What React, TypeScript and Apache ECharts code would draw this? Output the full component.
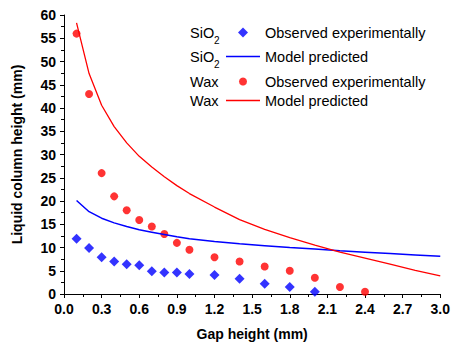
import React, { useEffect, useRef } from "react";
import * as echarts from "echarts";

const sio2ObsX = [0.1, 0.2, 0.3, 0.4, 0.5, 0.6, 0.7, 0.8, 0.9, 1.0, 1.2, 1.4, 1.6, 1.8, 2.0];
const sio2ObsY = [11.9, 9.9, 7.9, 7.0, 6.4, 6.2, 4.9, 4.6, 4.6, 4.3, 4.1, 3.3, 2.2, 1.5, 0.5];

const waxObsX = [0.1, 0.2, 0.3, 0.4, 0.5, 0.6, 0.7, 0.8, 0.9, 1.0, 1.2, 1.4, 1.6, 1.8, 2.0, 2.2, 2.4];
const waxObsY = [56.0, 43.0, 26.0, 21.0, 18.0, 15.9, 14.5, 12.9, 11.0, 9.5, 7.9, 7.0, 5.9, 5.0, 3.5, 1.5, 0.5];

const modelX = [0.1, 0.2, 0.3, 0.4, 0.5, 0.6, 0.7, 0.8, 0.9, 1.0, 1.2, 1.4, 1.6, 1.8, 2.0, 2.2, 2.4, 2.6, 2.8, 3.0];
const sio2ModelY = [20.1, 17.7, 16.3, 15.3, 14.5, 13.8, 13.3, 12.8, 12.3, 11.9, 11.3, 10.8, 10.4, 10.0, 9.7, 9.3, 9.0, 8.7, 8.4, 8.1];
const waxModelY = [58.3, 47.4, 40.6, 36.0, 32.5, 29.6, 27.3, 25.2, 23.3, 21.6, 18.7, 16.0, 13.9, 12.1, 10.5, 9.0, 7.7, 6.4, 5.1, 3.9];

const xAxisName = "Gap height (mm)";
const yAxisName = "Liquid column height (mm)";
const observedLabel = "Observed experimentally";
const modelLabel = "Model predicted";

const FONT = "Liberation Sans, Arial, sans-serif";

const pairs = (xs: number[], ys: number[]) => xs.map((x, i) => [x, ys[i]]);

export default function App() {
  const ref = useRef<HTMLDivElement>(null);
  useEffect(() => {
    if (!ref.current) return;
    const chart = echarts.init(ref.current, null, { renderer: "svg" });
    const legendItem = (
      name: string,
      icon: string,
      top: number,
      label: string,
      left: number,
      iw: number,
      ih: number,
      padLeft: number
    ) => ({
      data: [{ name, icon }],
      left,
      top,
      padding: 0,
      itemWidth: iw,
      itemHeight: ih,
      formatter: () => label,
      selectedMode: false,
      textStyle: { fontSize: 14.5, color: "#000", fontFamily: FONT, padding: [0, 0, 0, padLeft] },
    });
    chart.setOption({
      animation: false,
      backgroundColor: "#fff",
      grid: { left: 64, top: 15, width: 378, height: 279, containLabel: false },
      xAxis: {
        type: "value",
        min: 0,
        max: 3,
        interval: 0.3,
        name: xAxisName,
        nameLocation: "middle",
        nameGap: 33,
        nameTextStyle: { fontSize: 14, fontWeight: "bold", color: "#000", fontFamily: FONT },
        axisLine: { show: true, lineStyle: { color: "#000", width: 1 } },
        axisTick: { show: true, inside: false, length: 4, lineStyle: { color: "#000" } },
        minorTick: { show: true, splitNumber: 2, length: 3, lineStyle: { color: "#000" } },
        splitLine: { show: false },
        axisLabel: {
          fontSize: 14,
          fontWeight: "bold",
          color: "#000",
          fontFamily: FONT,
          margin: 8,
          formatter: (v: number) => v.toFixed(1),
        },
      },
      yAxis: {
        type: "value",
        min: 0,
        max: 60,
        interval: 5,
        name: yAxisName,
        nameLocation: "middle",
        nameGap: 40,
        nameTextStyle: { fontSize: 14, fontWeight: "bold", color: "#000", fontFamily: FONT },
        axisLine: { show: true, lineStyle: { color: "#000", width: 1 } },
        axisTick: { show: true, inside: false, length: 4, lineStyle: { color: "#000" } },
        minorTick: { show: true, splitNumber: 2, length: 3, lineStyle: { color: "#000" } },
        splitLine: { show: false },
        axisLabel: { fontSize: 14, fontWeight: "bold", color: "#000", fontFamily: FONT, margin: 8 },
      },
      legend: [
        legendItem("SiO2 observed", "diamond", 25, observedLabel, 238, 10, 10, 12),
        legendItem("SiO2 model", "rect", 49, modelLabel, 226, 34, 1.5, 0),
        legendItem("Wax observed", "circle", 74, observedLabel, 239, 8, 8, 13),
        legendItem("Wax model", "rect", 93, modelLabel, 226, 34, 1.5, 0),
      ],
      graphic: [
        { type: "text", left: 190, top: 25, style: { text: "SiO", fontSize: 14.5, fill: "#000", fontFamily: FONT } },
        { type: "text", left: 214, top: 35, style: { text: "2", fontSize: 10, fill: "#000", fontFamily: FONT } },
        { type: "text", left: 190, top: 49, style: { text: "SiO", fontSize: 14.5, fill: "#000", fontFamily: FONT } },
        { type: "text", left: 214, top: 59, style: { text: "2", fontSize: 10, fill: "#000", fontFamily: FONT } },
        { type: "text", left: 190, top: 74, style: { text: "Wax", fontSize: 14.5, fill: "#000", fontFamily: FONT } },
        { type: "text", left: 190, top: 93, style: { text: "Wax", fontSize: 14.5, fill: "#000", fontFamily: FONT } },
      ],
      series: [
        {
          name: "SiO2 observed",
          type: "scatter",
          symbol: "diamond",
          symbolSize: 10,
          itemStyle: { color: "#0000ff" },
          data: pairs(sio2ObsX, sio2ObsY),
        },
        {
          name: "SiO2 model",
          type: "line",
          symbol: "none",
          showSymbol: false,
          lineStyle: { color: "#0000ff", width: 1.5 },
          itemStyle: { color: "#0000ff" },
          data: pairs(modelX, sio2ModelY),
        },
        {
          name: "Wax observed",
          type: "scatter",
          symbol: "circle",
          symbolSize: 8,
          itemStyle: { color: "#ff0000" },
          data: pairs(waxObsX, waxObsY),
        },
        {
          name: "Wax model",
          type: "line",
          symbol: "none",
          showSymbol: false,
          lineStyle: { color: "#ff0000", width: 1.3 },
          itemStyle: { color: "#ff0000" },
          data: pairs(modelX, waxModelY),
        },
      ],
    });
    return () => chart.dispose();
  }, []);
  return (
    <div
      ref={ref}
      style={{ position: "fixed", left: 0, top: 0, width: 453, height: 351, background: "#fff" }}
    />
  );
}
